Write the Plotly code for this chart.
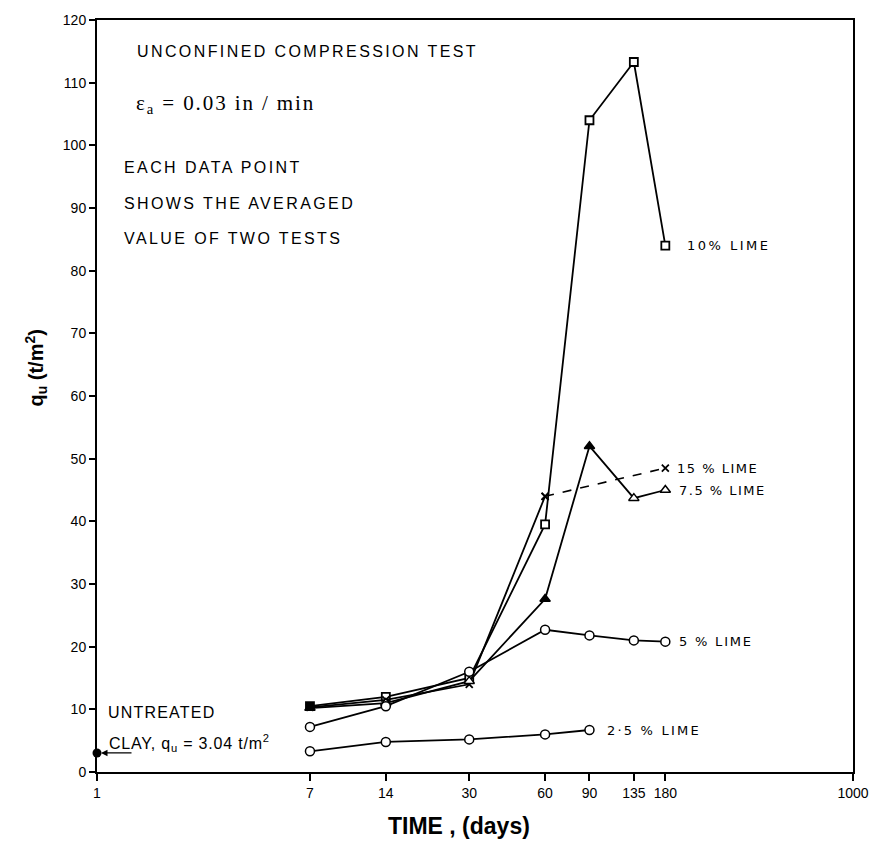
import plotly.graph_objects as go
import math

# ---------------- data ----------------
days_10 = [7, 14, 30, 60, 90, 135, 180]
qu_10 = [10.5, 12.0, 15.0, 39.5, 104.0, 113.3, 84.0]

days_15_solid = [7, 14, 30, 60]
qu_15_solid = [10.3, 11.5, 14.0, 44.0]
days_15_dash = [60, 180]
qu_15_dash = [44.0, 48.5]

days_75 = [7, 14, 30, 60, 90, 135, 180]
qu_75 = [10.2, 11.0, 14.5, 27.6, 52.0, 43.7, 45.0]

days_5 = [7, 14, 30, 60, 90, 135, 180]
qu_5 = [7.2, 10.5, 16.0, 22.7, 21.8, 21.0, 20.8]

days_25 = [7, 14, 30, 60, 90]
qu_25 = [3.3, 4.8, 5.2, 6.0, 6.7]

untreated_day = [1]
untreated_qu = [3.04]

x_tickvals = [1, 7, 14, 30, 60, 90, 135, 180, 1000]
x_ticktext = ["1", "7", "14", "30", "60", "90", "135", "180", "1000"]
y_tickvals = list(range(0, 121, 10))

# ---------------- figure ----------------
L, R, T, B = 97, 21, 20, 85
W, H = 881, 857
PW, PH = W - L - R, H - T - B


def pxx(x):
    return (x - L) / PW


def pxy(y):
    return (H - B - y) / PH


def spaced(text, sp):
    return '<span style="letter-spacing:%spx">%s</span>' % (sp, text)


fig = go.Figure()
line = dict(color="black", width=1.8)

fig.add_trace(go.Scatter(x=days_10, y=qu_10, mode="lines+markers", line=line,
                         marker=dict(symbol="square", size=8, color=["black"] + ["white"] * 6,
                                     line=dict(color="black", width=1.8)),
                         showlegend=False))
fig.add_trace(go.Scatter(x=days_15_solid, y=qu_15_solid, mode="lines+markers", line=line,
                         marker=dict(symbol="x-thin", size=7, line=dict(color="black", width=1.8)),
                         showlegend=False))
fig.add_trace(go.Scatter(x=days_15_dash, y=qu_15_dash, mode="lines+markers",
                         line=dict(color="black", width=1.6, dash="dash"),
                         marker=dict(symbol="x-thin", size=7, line=dict(color="black", width=1.8)),
                         showlegend=False))
fig.add_trace(go.Scatter(x=days_75, y=qu_75, mode="lines+markers", line=line,
                         marker=dict(symbol="triangle-up", size=9,
                                     color=["black", "white", "white", "black", "black", "white", "white"],
                                     line=dict(color="black", width=1.5)),
                         showlegend=False))
fig.add_trace(go.Scatter(x=days_5, y=qu_5, mode="lines+markers", line=line,
                         marker=dict(symbol="circle", size=9, color="white",
                                     line=dict(color="black", width=1.5)),
                         showlegend=False))
fig.add_trace(go.Scatter(x=days_25, y=qu_25, mode="lines+markers", line=line,
                         marker=dict(symbol="circle", size=9, color="white",
                                     line=dict(color="black", width=1.5)),
                         showlegend=False))
fig.add_trace(go.Scatter(x=untreated_day, y=untreated_qu, mode="markers",
                         marker=dict(symbol="circle", size=9, color="black"),
                         cliponaxis=False, showlegend=False))

lab_font = dict(family="DejaVu Sans, Arial, sans-serif", size=13, color="black")
series_labels = [
    (days_10[-1], qu_10[-1], "10% LIME", 20, 2.5),
    (days_15_dash[-1], qu_15_dash[-1], "15 % LIME", 10, 1.5),
    (days_75[-1], qu_75[-1], "7.5 % LIME", 12, 1.5),
    (days_5[-1], qu_5[-1], "5 % LIME", 12, 1.8),
    (days_25[-1], qu_25[-1], "2·5 % LIME", 16, 2.2),
]
for xd, yd, txt, sh, sp in series_labels:
    fig.add_annotation(x=math.log10(xd), y=yd, xref="x", yref="y", text=spaced(txt, sp),
                       showarrow=False, xanchor="left", yanchor="middle", xshift=sh,
                       font=lab_font)

txt_font = dict(family="Liberation Sans, Arial, sans-serif", size=16, color="black")
fig.add_annotation(x=pxx(135), y=pxy(52), xref="paper", yref="paper",
                   text=spaced("UNCONFINED COMPRESSION TEST", 2.4), showarrow=False,
                   xanchor="left", yanchor="middle", font=txt_font)
fig.add_annotation(x=pxx(134), y=pxy(104), xref="paper", yref="paper",
                   text=spaced("ε<sub>a</sub> = 0.03 in / min", 1.9), showarrow=False,
                   xanchor="left", yanchor="middle",
                   font=dict(family="Liberation Serif, Times New Roman, serif", size=21, color="black"))
for yy, t in [(168, "EACH DATA POINT"), (203, "SHOWS THE AVERAGED"), (238, "VALUE OF TWO TESTS")]:
    fig.add_annotation(x=pxx(122), y=pxy(yy), xref="paper", yref="paper", text=spaced(t, 2.4),
                       showarrow=False, xanchor="left", yanchor="middle", font=txt_font)

fig.add_annotation(x=pxx(106), y=pxy(712), xref="paper", yref="paper", text=spaced("UNTREATED", 1.2),
                   showarrow=False, xanchor="left", yanchor="middle", font=txt_font)
fig.add_annotation(x=pxx(107), y=pxy(743), xref="paper", yref="paper",
                   text=spaced("CLAY, q<sub>u</sub> = 3.04 t/m<sup>2</sup>", 0.8),
                   showarrow=False, xanchor="left", yanchor="middle", font=txt_font)
# arrow pointing to untreated clay point
fig.add_annotation(x=0, y=untreated_qu[0], xref="x", yref="y", ax=36, ay=0,
                   axref="pixel", ayref="pixel", text="", showarrow=True,
                   arrowhead=2, arrowsize=1, arrowwidth=1.3, arrowcolor="black", standoff=4)

# axis titles
fig.add_annotation(x=pxx(35), y=pxy(368), xref="paper", yref="paper",
                   text="<b>q<sub>u</sub> (t/m<sup>2</sup>)</b>", textangle=-90, showarrow=False,
                   xanchor="center", yanchor="middle",
                   font=dict(family="Liberation Sans, Arial, sans-serif", size=20, color="black"))
fig.add_annotation(x=pxx(462), y=pxy(826), xref="paper", yref="paper",
                   text="<b>TIME , (days)</b>", showarrow=False,
                   xanchor="center", yanchor="middle",
                   font=dict(family="Liberation Sans, Arial, sans-serif", size=23, color="black"))

tick_font = dict(family="Liberation Sans, Arial, sans-serif", size=14, color="black")
fig.update_xaxes(type="log", range=[0, 3], tickvals=x_tickvals, ticktext=x_ticktext,
                 ticks="outside", ticklen=7, tickwidth=1.5, tickcolor="black",
                 showline=True, linecolor="black", linewidth=2, mirror=True,
                 showgrid=False, zeroline=False, tickfont=tick_font)
fig.update_yaxes(range=[0, 120], tickvals=y_tickvals, ticks="outside", ticklen=6,
                 tickwidth=1.5, tickcolor="black",
                 showline=True, linecolor="black", linewidth=2, mirror=True,
                 showgrid=False, zeroline=False, tickfont=tick_font)

fig.update_layout(width=W, height=H, margin=dict(l=L, r=R, t=T, b=B),
                  plot_bgcolor="white", paper_bgcolor="white")

fig.write_html("out.html")
